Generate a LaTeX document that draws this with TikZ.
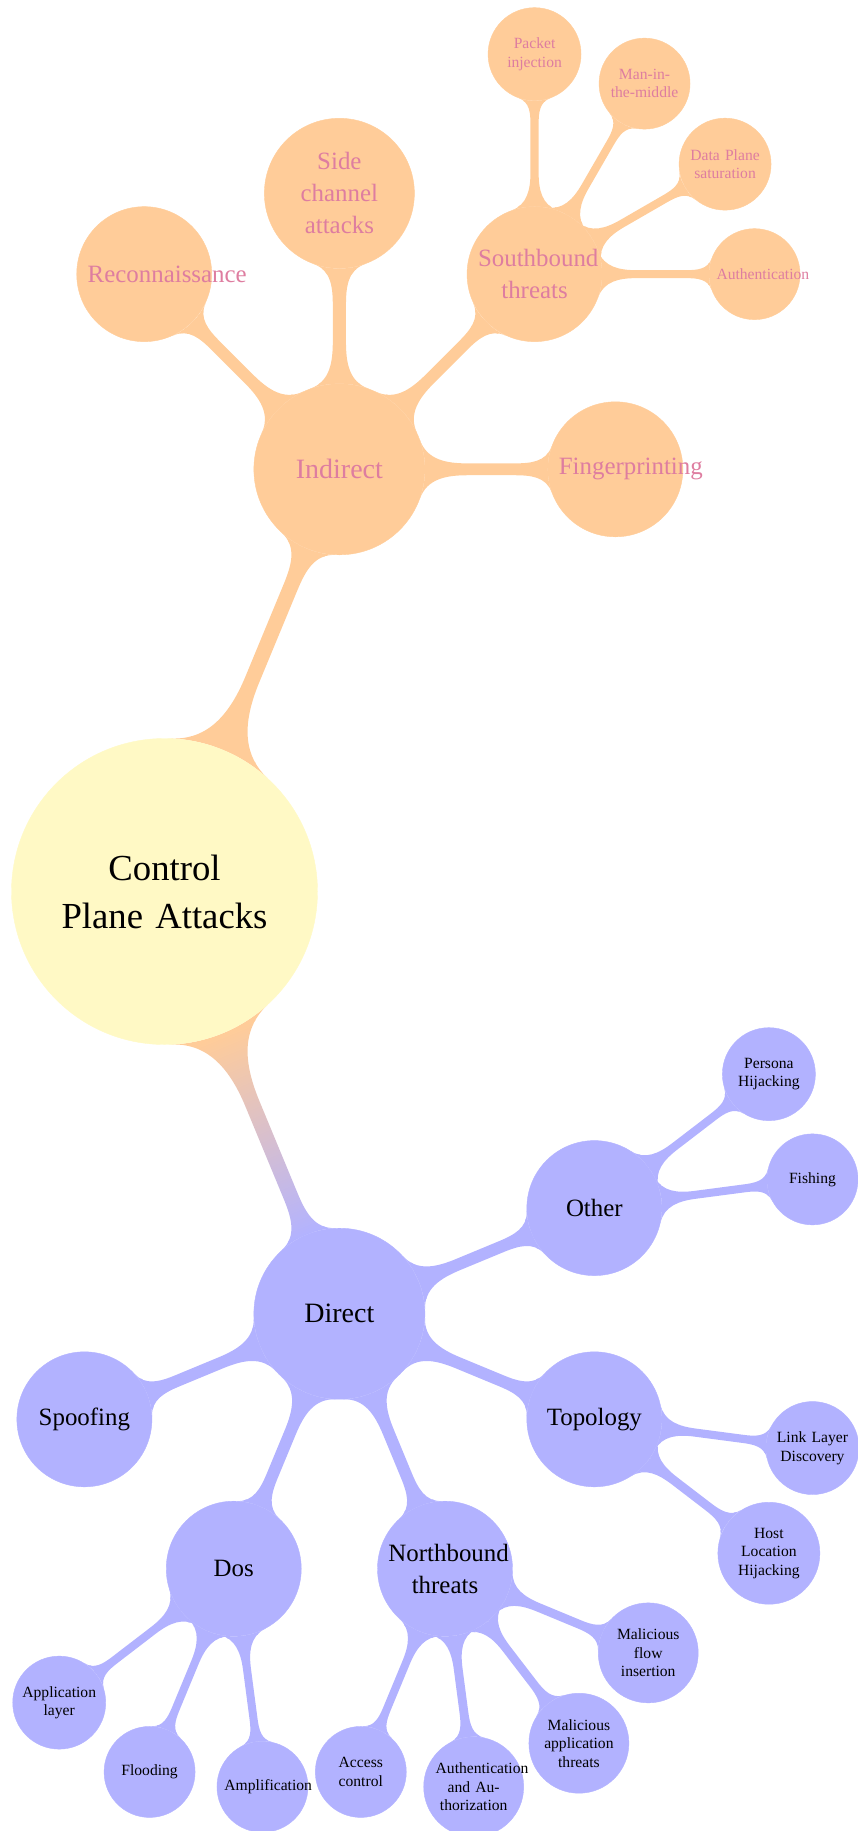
\documentclass[tikz,border=0pt]{standalone}
\usepackage{fontspec}
\setmainfont{Liberation Serif}
\usetikzlibrary{mindmap,calc}
\pgfdeclarelayer{background}
\pgfsetlayers{background,main}

\definecolor{rootfill}{RGB}{255,249,197}
\colorlet{indfill}{orange!40}
\colorlet{dirfill}{blue!30}
\definecolor{indtext}{RGB}{222,125,160}

\tikzset{
  indirectc/.style={concept color=indfill},
  directc/.style={concept color=dirfill},
  rootc/.style={concept color=rootfill, concept, minimum size=306pt, text width=230pt,
    inner sep=0pt, align=center, text=black, font=\fontsize{36.7pt}{48pt}\selectfont},
  lonec/.style={concept, minimum size=171pt, text width=140pt, inner sep=0pt,
    align=center, font=\fontsize{28pt}{34pt}\selectfont},
  ltwoc/.style={concept, minimum size=135pt, text width=113pt, inner sep=0pt,
    align=center, font=\fontsize{24.9pt}{32pt}\selectfont},
  lthreec/.style={concept, minimum size=91pt, text width=76pt, inner sep=0pt,
    align=center, font=\fontsize{15.6pt}{18.5pt}\selectfont},
  itxt/.style={text=indtext},
  dtxt/.style={text=black},
  barone/.style={line width=18.5pt},
  bartwo/.style={line width=12.3pt},
  barthree/.style={line width=7.7pt},
}

\begin{document}
\begin{tikzpicture}[x=1pt,y=1pt]
\useasboundingbox (0,0) rectangle (857,-1831);

% root
\node[rootc] (root) at (164.5,-891.5) {Control\\Plane Attacks};

% indirect branch
\node[indirectc,lonec,itxt] (ind) at ($(root)+(67.5:457)$) {Indirect};
\node[indirectc,ltwoc,itxt] (recon) at ($(ind)+(135:276)$) {Reconnaissance};
\node[indirectc,ltwoc,itxt,minimum size=150pt] (side) at ($(ind)+(90:276)$) {Side\\channel\\attacks};
\node[indirectc,ltwoc,itxt] (south) at ($(ind)+(45:276)$) {Southbound\\threats};
\node[indirectc,ltwoc,itxt] (finger) at ($(ind)+(0:276)$) {Fingerprinting};
\node[indirectc,lthreec,itxt,minimum size=93pt] (packet) at ($(south)+(90:220)$) {Packet\\injection};
\node[indirectc,lthreec,itxt] (mitm) at ($(south)+(60:220)$) {Man-in-\\the-middle};
\node[indirectc,lthreec,itxt,minimum size=92pt] (dplane) at ($(south)+(30:220)$) {Data Plane\\saturation};
\node[indirectc,lthreec,itxt] (authn) at ($(south)+(0:220)$) {Authentication};

% direct branch
\node[directc,lonec,dtxt] (dir) at ($(root)+(-67.5:457)$) {Direct};
\node[directc,ltwoc,dtxt] (other) at ($(dir)+(22.5:276)$) {Other};
\node[directc,ltwoc,dtxt] (topo) at ($(dir)+(-22.5:276)$) {Topology};
\node[directc,ltwoc,dtxt] (north) at ($(dir)+(-67.5:276)$) {Northbound\\threats};
\node[directc,ltwoc,dtxt] (dos) at ($(dir)+(-112.5:276)$) {Dos};
\node[directc,ltwoc,dtxt] (spoof) at ($(dir)+(-157.5:276)$) {Spoofing};
\node[directc,lthreec,dtxt,minimum size=93pt] (persona) at ($(other)+(37.5:220)$) {Persona\\Hijacking};
\node[directc,lthreec,dtxt] (fish) at ($(other)+(7.5:220)$) {Fishing};
\node[directc,lthreec,dtxt,minimum size=93pt] (link) at ($(topo)+(-7.5:220)$) {Link Layer\\Discovery};
\node[directc,lthreec,dtxt,minimum size=102pt] (host) at ($(topo)+(-37.5:220)$) {Host\\Location\\Hijacking};
\node[directc,lthreec,dtxt,minimum size=100pt] (mflow) at ($(north)+(-22.5:220)$) {Malicious\\flow\\insertion};
\node[directc,lthreec,dtxt,minimum size=100pt] (mapp) at ($(north)+(-52.5:220)$) {Malicious\\application\\threats};
\node[directc,lthreec,dtxt,minimum size=100pt] (authz) at ($(north)+(-82.5:220)$) {Authentication\\and Au-\\thorization};
\node[directc,lthreec,dtxt] (access) at ($(north)+(-112.5:220)$) {Access\\control};
\node[directc,lthreec,dtxt,minimum size=93pt] (applayer) at ($(dos)+(-142.5:220)$) {Application\\layer};
\node[directc,lthreec,dtxt] (flood) at ($(dos)+(-112.5:220)$) {Flooding};
\node[directc,lthreec,dtxt] (ampl) at ($(dos)+(-82.5:220)$) {Amplification};

% connection bars
\begin{pgfonlayer}{background}
\path[barone] (root) to[circle connection bar switch color=from (indfill) to (indfill)] (ind);
\path[barone] (root) to[circle connection bar switch color=from (indfill) to (dirfill)] (dir);

\foreach \c in {recon,side,south,finger}
  \path[bartwo] (ind) to[circle connection bar switch color=from (indfill) to (indfill)] (\c);
\foreach \c in {packet,mitm,dplane,authn}
  \path[barthree] (south) to[circle connection bar switch color=from (indfill) to (indfill)] (\c);

\foreach \c in {other,topo,north,dos,spoof}
  \path[bartwo] (dir) to[circle connection bar switch color=from (dirfill) to (dirfill)] (\c);
\foreach \c in {persona,fish}
  \path[barthree] (other) to[circle connection bar switch color=from (dirfill) to (dirfill)] (\c);
\foreach \c in {link,host}
  \path[barthree] (topo) to[circle connection bar switch color=from (dirfill) to (dirfill)] (\c);
\foreach \c in {mflow,mapp,authz,access}
  \path[barthree] (north) to[circle connection bar switch color=from (dirfill) to (dirfill)] (\c);
\foreach \c in {applayer,flood,ampl}
  \path[barthree] (dos) to[circle connection bar switch color=from (dirfill) to (dirfill)] (\c);
\end{pgfonlayer}
\end{tikzpicture}
\end{document}
